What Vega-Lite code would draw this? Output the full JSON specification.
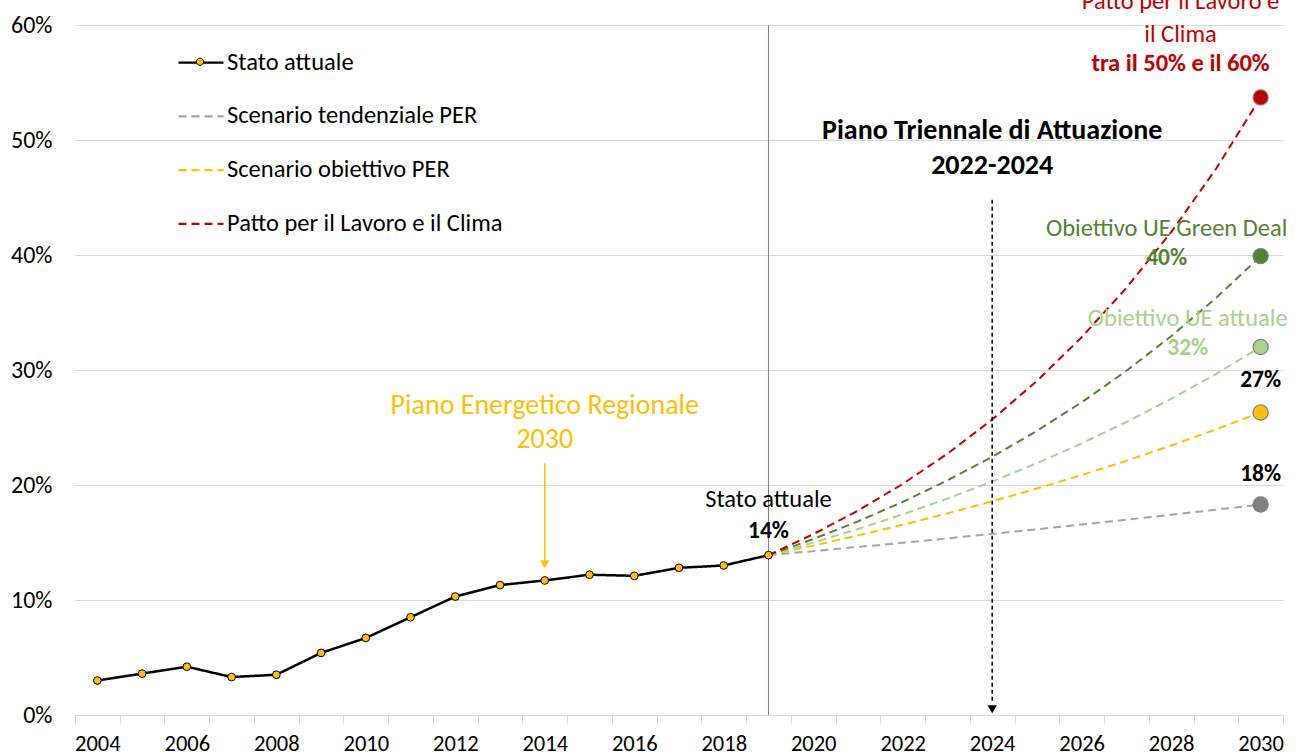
{
  "$schema": "https://vega.github.io/schema/vega-lite/v6.json",
  "width": 1208,
  "height": 690,
  "autosize": {"type": "none"},
  "padding": {"left": 75, "top": 25, "right": 17, "bottom": 41},
  "background": "white",
  "config": {
    "font": "Carlito, Lato, sans-serif",
    "view": {"stroke": null},
    "legend": {"padding": 0}
  },
  "datasets": {
    "stato": [
      {"anno": 2004, "valore": 3.0, "serie": "Stato attuale"},
      {"anno": 2005, "valore": 3.6, "serie": "Stato attuale"},
      {"anno": 2006, "valore": 4.2, "serie": "Stato attuale"},
      {"anno": 2007, "valore": 3.3, "serie": "Stato attuale"},
      {"anno": 2008, "valore": 3.5, "serie": "Stato attuale"},
      {"anno": 2009, "valore": 5.4, "serie": "Stato attuale"},
      {"anno": 2010, "valore": 6.7, "serie": "Stato attuale"},
      {"anno": 2011, "valore": 8.5, "serie": "Stato attuale"},
      {"anno": 2012, "valore": 10.3, "serie": "Stato attuale"},
      {"anno": 2013, "valore": 11.3, "serie": "Stato attuale"},
      {"anno": 2014, "valore": 11.7, "serie": "Stato attuale"},
      {"anno": 2015, "valore": 12.2, "serie": "Stato attuale"},
      {"anno": 2016, "valore": 12.1, "serie": "Stato attuale"},
      {"anno": 2017, "valore": 12.8, "serie": "Stato attuale"},
      {"anno": 2018, "valore": 13.0, "serie": "Stato attuale"},
      {"anno": 2019, "valore": 13.9, "serie": "Stato attuale"}
    ],
    "scenari": [
      {"anno": 2019, "valore": 13.9, "serie": "Scenario tendenziale PER"},
      {"anno": 2020, "valore": 14.25, "serie": "Scenario tendenziale PER"},
      {"anno": 2021, "valore": 14.61, "serie": "Scenario tendenziale PER"},
      {"anno": 2022, "valore": 14.98, "serie": "Scenario tendenziale PER"},
      {"anno": 2023, "valore": 15.36, "serie": "Scenario tendenziale PER"},
      {"anno": 2024, "valore": 15.75, "serie": "Scenario tendenziale PER"},
      {"anno": 2025, "valore": 16.15, "serie": "Scenario tendenziale PER"},
      {"anno": 2026, "valore": 16.56, "serie": "Scenario tendenziale PER"},
      {"anno": 2027, "valore": 16.98, "serie": "Scenario tendenziale PER"},
      {"anno": 2028, "valore": 17.41, "serie": "Scenario tendenziale PER"},
      {"anno": 2029, "valore": 17.85, "serie": "Scenario tendenziale PER"},
      {"anno": 2030, "valore": 18.3, "serie": "Scenario tendenziale PER"},
      {"anno": 2019, "valore": 13.9, "serie": "Scenario obiettivo PER"},
      {"anno": 2020, "valore": 14.73, "serie": "Scenario obiettivo PER"},
      {"anno": 2021, "valore": 15.61, "serie": "Scenario obiettivo PER"},
      {"anno": 2022, "valore": 16.54, "serie": "Scenario obiettivo PER"},
      {"anno": 2023, "valore": 17.53, "serie": "Scenario obiettivo PER"},
      {"anno": 2024, "valore": 18.58, "serie": "Scenario obiettivo PER"},
      {"anno": 2025, "valore": 19.69, "serie": "Scenario obiettivo PER"},
      {"anno": 2026, "valore": 20.86, "serie": "Scenario obiettivo PER"},
      {"anno": 2027, "valore": 22.11, "serie": "Scenario obiettivo PER"},
      {"anno": 2028, "valore": 23.43, "serie": "Scenario obiettivo PER"},
      {"anno": 2029, "valore": 24.83, "serie": "Scenario obiettivo PER"},
      {"anno": 2030, "valore": 26.3, "serie": "Scenario obiettivo PER"},
      {"anno": 2019, "valore": 13.9, "serie": "Obiettivo UE attuale"},
      {"anno": 2020, "valore": 14.99, "serie": "Obiettivo UE attuale"},
      {"anno": 2021, "valore": 16.17, "serie": "Obiettivo UE attuale"},
      {"anno": 2022, "valore": 17.45, "serie": "Obiettivo UE attuale"},
      {"anno": 2023, "valore": 18.82, "serie": "Obiettivo UE attuale"},
      {"anno": 2024, "valore": 20.3, "serie": "Obiettivo UE attuale"},
      {"anno": 2025, "valore": 21.9, "serie": "Obiettivo UE attuale"},
      {"anno": 2026, "valore": 23.62, "serie": "Obiettivo UE attuale"},
      {"anno": 2027, "valore": 25.48, "serie": "Obiettivo UE attuale"},
      {"anno": 2028, "valore": 27.49, "serie": "Obiettivo UE attuale"},
      {"anno": 2029, "valore": 29.65, "serie": "Obiettivo UE attuale"},
      {"anno": 2030, "valore": 32.0, "serie": "Obiettivo UE attuale"},
      {"anno": 2019, "valore": 13.9, "serie": "Obiettivo UE Green Deal"},
      {"anno": 2020, "valore": 15.3, "serie": "Obiettivo UE Green Deal"},
      {"anno": 2021, "valore": 16.84, "serie": "Obiettivo UE Green Deal"},
      {"anno": 2022, "valore": 18.53, "serie": "Obiettivo UE Green Deal"},
      {"anno": 2023, "valore": 20.4, "serie": "Obiettivo UE Green Deal"},
      {"anno": 2024, "valore": 22.45, "serie": "Obiettivo UE Green Deal"},
      {"anno": 2025, "valore": 24.71, "serie": "Obiettivo UE Green Deal"},
      {"anno": 2026, "valore": 27.19, "serie": "Obiettivo UE Green Deal"},
      {"anno": 2027, "valore": 29.93, "serie": "Obiettivo UE Green Deal"},
      {"anno": 2028, "valore": 32.94, "serie": "Obiettivo UE Green Deal"},
      {"anno": 2029, "valore": 36.25, "serie": "Obiettivo UE Green Deal"},
      {"anno": 2030, "valore": 39.9, "serie": "Obiettivo UE Green Deal"},
      {"anno": 2019, "valore": 13.9, "serie": "Patto per il Lavoro e il Clima"},
      {"anno": 2020, "valore": 15.72, "serie": "Patto per il Lavoro e il Clima"},
      {"anno": 2021, "valore": 17.77, "serie": "Patto per il Lavoro e il Clima"},
      {"anno": 2022, "valore": 20.09, "serie": "Patto per il Lavoro e il Clima"},
      {"anno": 2023, "valore": 22.72, "serie": "Patto per il Lavoro e il Clima"},
      {"anno": 2024, "valore": 25.69, "serie": "Patto per il Lavoro e il Clima"},
      {"anno": 2025, "valore": 29.05, "serie": "Patto per il Lavoro e il Clima"},
      {"anno": 2026, "valore": 32.85, "serie": "Patto per il Lavoro e il Clima"},
      {"anno": 2027, "valore": 37.14, "serie": "Patto per il Lavoro e il Clima"},
      {"anno": 2028, "valore": 41.99, "serie": "Patto per il Lavoro e il Clima"},
      {"anno": 2029, "valore": 47.48, "serie": "Patto per il Lavoro e il Clima"},
      {"anno": 2030, "valore": 53.7, "serie": "Patto per il Lavoro e il Clima"}
    ]
  },
  "encoding": {
    "x": {
      "field": "anno",
      "type": "quantitative",
      "scale": {"domain": [2003.5, 2030.5], "nice": false, "zero": false},
      "axis": {
        "title": null,
        "grid": false,
        "values": [2003.5, 2004, 2004.5, 2005.5, 2006, 2006.5, 2007.5, 2008, 2008.5, 2009.5, 2010, 2010.5, 2011.5, 2012, 2012.5, 2013.5, 2014, 2014.5, 2015.5, 2016, 2016.5, 2017.5, 2018, 2018.5, 2019.5, 2020, 2020.5, 2021.5, 2022, 2022.5, 2023.5, 2024, 2024.5, 2025.5, 2026, 2026.5, 2027.5, 2028, 2028.5, 2029.5, 2030, 2030.5],
        "labelExpr": "datum.value % 2 === 0 ? format(datum.value, 'd') : ''",
        "tickOpacity": {"condition": {"test": "datum.value % 1 === 0", "value": 0}, "value": 1},
        "tickSize": 8,
        "tickColor": "#D9D9D9",
        "domainColor": "#D9D9D9",
        "domainWidth": 1,
        "labelFontSize": 22.5,
        "labelColor": "#000000",
        "labelPadding": 9,
        "labelOverlap": false,
        "labelFlush": false,
        "labelBound": false
      }
    },
    "y": {
      "field": "valore",
      "type": "quantitative",
      "scale": {"domain": [0, 60], "nice": false},
      "axis": {
        "title": null,
        "values": [0, 10, 20, 30, 40, 50, 60],
        "labelExpr": "datum.value + '%'",
        "grid": true,
        "gridColor": "#D9D9D9",
        "gridWidth": 1,
        "domain": false,
        "ticks": false,
        "labelFontSize": 24,
        "labelColor": "#000000",
        "labelPadding": 23
      }
    }
  },
  "layer": [
    {
      "data": {"values": [{"anno": 2019, "valore": 0, "valore2": 60}]},
      "mark": {"type": "rule", "color": "#7F7F7F", "strokeWidth": 1},
      "encoding": {"y2": {"field": "valore2"}}
    },
    {
      "data": {"name": "scenari"},
      "mark": {"type": "line", "strokeWidth": 2},
      "encoding": {
        "color": {
          "field": "serie",
          "type": "nominal",
          "scale": {
            "domain": ["Stato attuale", "Scenario tendenziale PER", "Scenario obiettivo PER", "Patto per il Lavoro e il Clima", "Obiettivo UE attuale", "Obiettivo UE Green Deal"],
            "range": ["#000000", "#A5A5A5", "#FFC000", "#C00000", "#A9D18E", "#548235"]
          },
          "legend": {
            "orient": "none", "legendX": 102, "legendY": 13.7, "title": null,
            "values": ["Stato attuale", "Scenario tendenziale PER", "Scenario obiettivo PER", "Patto per il Lavoro e il Clima"],
            "symbolType": "stroke", "symbolSize": 2025, "symbolStrokeWidth": 2.2,
            "labelFontSize": 24.5, "labelColor": "#000000", "labelOffset": 2, "labelLimit": 0, "rowPadding": 17.7,
            "encode": {"symbols": {"update": {"strokeDash": {"signal": "datum.value === 'Stato attuale' ? [1, 0] : [9, 6.5]"}}}}
          }
        },
        "strokeDash": {
          "field": "serie",
          "type": "nominal",
          "scale": {
            "domain": ["Stato attuale", "Scenario tendenziale PER", "Scenario obiettivo PER", "Patto per il Lavoro e il Clima", "Obiettivo UE attuale", "Obiettivo UE Green Deal"],
            "range": [[1, 0], [8, 5], [8, 5], [8, 5], [8, 5], [8, 5]]
          },
          "legend": {
            "orient": "none", "legendX": 102, "legendY": 13.7, "title": null,
            "values": ["Stato attuale", "Scenario tendenziale PER", "Scenario obiettivo PER", "Patto per il Lavoro e il Clima"],
            "symbolType": "stroke", "symbolSize": 2025, "symbolStrokeWidth": 2.2,
            "labelFontSize": 24.5, "labelColor": "#000000", "labelOffset": 2, "labelLimit": 0, "rowPadding": 17.7,
            "encode": {"symbols": {"update": {"strokeDash": {"signal": "datum.value === 'Stato attuale' ? [1, 0] : [9, 6.5]"}}}}
          }
        }
      }
    },
    {
      "data": {"name": "stato"},
      "mark": {"type": "line", "strokeWidth": 2.5},
      "encoding": {
        "color": {"field": "serie", "type": "nominal"},
        "strokeDash": {"field": "serie", "type": "nominal"}
      }
    },
    {
      "data": {"name": "stato"},
      "mark": {"type": "point", "filled": true, "size": 60, "stroke": "#000000", "strokeWidth": 1, "opacity": 1},
      "encoding": {
        "fill": {
          "datum": "Stato attuale",
          "type": "nominal",
          "scale": {"domain": ["Stato attuale"], "range": ["#FFC000"]},
          "legend": {
            "orient": "none", "legendX": 102, "legendY": 13.7, "title": null,
            "symbolType": "M0.16,0A0.16,0.16,0,1,1,-0.16,0A0.16,0.16,0,1,1,0.16,0Z",
            "symbolSize": 2025, "symbolStrokeColor": "#000000", "symbolStrokeWidth": 1,
            "symbolOpacity": 1, "labelExpr": "''", "labelFontSize": 24.5, "labelOffset": 2
          }
        }
      }
    },
    {
      "data": {"name": "scenari"},
      "transform": [{"filter": "datum.anno === 2030"}],
      "mark": {"type": "point", "filled": true, "size": 230, "stroke": "#7F7F7F", "strokeWidth": 1.2, "opacity": 1},
      "encoding": {
        "fill": {
          "field": "serie",
          "type": "nominal",
          "scale": {
            "domain": ["Scenario tendenziale PER", "Scenario obiettivo PER", "Patto per il Lavoro e il Clima", "Obiettivo UE attuale", "Obiettivo UE Green Deal"],
            "range": ["#808080", "#FFC000", "#C00000", "#A9D18E", "#548235"]
          },
          "legend": null
        }
      }
    },
    {
      "data": {"values": [{"anno": 2024, "valore": 44.8, "valore2": 1.2}]},
      "mark": {"type": "rule", "color": "#000000", "strokeWidth": 1.5, "strokeDash": [4, 3]},
      "encoding": {"y2": {"field": "valore2"}}
    },
    {
      "data": {"values": [{"anno": 2024, "valore": 0.5}]},
      "mark": {"type": "point", "shape": "triangle-down", "filled": true, "color": "#000000", "size": 90, "opacity": 1}
    },
    {
      "data": {"values": [{"anno": 2014, "valore": 21.9, "valore2": 13.4}]},
      "mark": {"type": "rule", "color": "#FFC000", "strokeWidth": 1.5},
      "encoding": {"y2": {"field": "valore2"}}
    },
    {
      "data": {"values": [{"anno": 2014, "valore": 13.1}]},
      "mark": {"type": "point", "shape": "triangle-down", "filled": true, "color": "#FFC000", "size": 90, "opacity": 1}
    },
    {
      "data": {"values": [
        {"anno": 2019, "valore": 18.7, "testo": "Stato attuale"}
      ]},
      "mark": {"type": "text", "fontSize": 24.5, "color": "#000000", "align": "center", "baseline": "middle"},
      "encoding": {"text": {"field": "testo"}}
    },
    {
      "data": {"values": [
        {"anno": 2019, "valore": 16.0, "testo": "14%"},
        {"anno": 2030, "valore": 29.1, "testo": "27%"},
        {"anno": 2030, "valore": 21.0, "testo": "18%"}
      ]},
      "mark": {"type": "text", "fontSize": 23.5, "fontWeight": "bold", "color": "#000000", "align": "center", "baseline": "middle"},
      "encoding": {"text": {"field": "testo"}}
    },
    {
      "data": {"values": [
        {"anno": 2014, "valore": 26.9, "testo": "Piano Energetico Regionale"},
        {"anno": 2014, "valore": 23.9, "testo": "2030"}
      ]},
      "mark": {"type": "text", "fontSize": 28, "color": "#FFC000", "align": "center", "baseline": "middle"},
      "encoding": {"text": {"field": "testo"}}
    },
    {
      "data": {"values": [
        {"anno": 2024, "valore": 50.8, "testo": "Piano Triennale di Attuazione"},
        {"anno": 2024, "valore": 47.7, "testo": "2022-2024"}
      ]},
      "mark": {"type": "text", "fontSize": 28, "fontWeight": "bold", "color": "#000000", "align": "center", "baseline": "middle"},
      "encoding": {"text": {"field": "testo"}}
    },
    {
      "data": {"values": [{"anno": 2027.9, "valore": 42.3, "testo": "Obiettivo UE Green Deal"}]},
      "mark": {"type": "text", "fontSize": 24.5, "color": "#548235", "align": "center", "baseline": "middle"},
      "encoding": {"text": {"field": "testo"}}
    },
    {
      "data": {"values": [{"anno": 2027.9, "valore": 39.7, "testo": "40%"}]},
      "mark": {"type": "text", "fontSize": 23.5, "fontWeight": "bold", "color": "#548235", "align": "center", "baseline": "middle"},
      "encoding": {"text": {"field": "testo"}}
    },
    {
      "data": {"values": [{"anno": 2028.37, "valore": 34.4, "testo": "Obiettivo UE attuale"}]},
      "mark": {"type": "text", "fontSize": 24.5, "color": "#A9D18E", "align": "center", "baseline": "middle"},
      "encoding": {"text": {"field": "testo"}}
    },
    {
      "data": {"values": [{"anno": 2028.37, "valore": 31.9, "testo": "32%"}]},
      "mark": {"type": "text", "fontSize": 23.5, "fontWeight": "bold", "color": "#A9D18E", "align": "center", "baseline": "middle"},
      "encoding": {"text": {"field": "testo"}}
    },
    {
      "data": {"values": [
        {"anno": 2028.21, "valore": 62.0, "testo": "Patto per il Lavoro e"},
        {"anno": 2028.21, "valore": 59.1, "testo": "il Clima"}
      ]},
      "mark": {"type": "text", "fontSize": 24.5, "color": "#C00000", "align": "center", "baseline": "middle", "clip": false},
      "encoding": {"text": {"field": "testo"}}
    },
    {
      "data": {"values": [{"anno": 2028.21, "valore": 56.6, "testo": "tra il 50% e il 60%"}]},
      "mark": {"type": "text", "fontSize": 24.5, "fontWeight": "bold", "color": "#C00000", "align": "center", "baseline": "middle"},
      "encoding": {"text": {"field": "testo"}}
    }
  ],
  "resolve": {"scale": {"fill": "independent"}, "legend": {"fill": "independent"}}
}
